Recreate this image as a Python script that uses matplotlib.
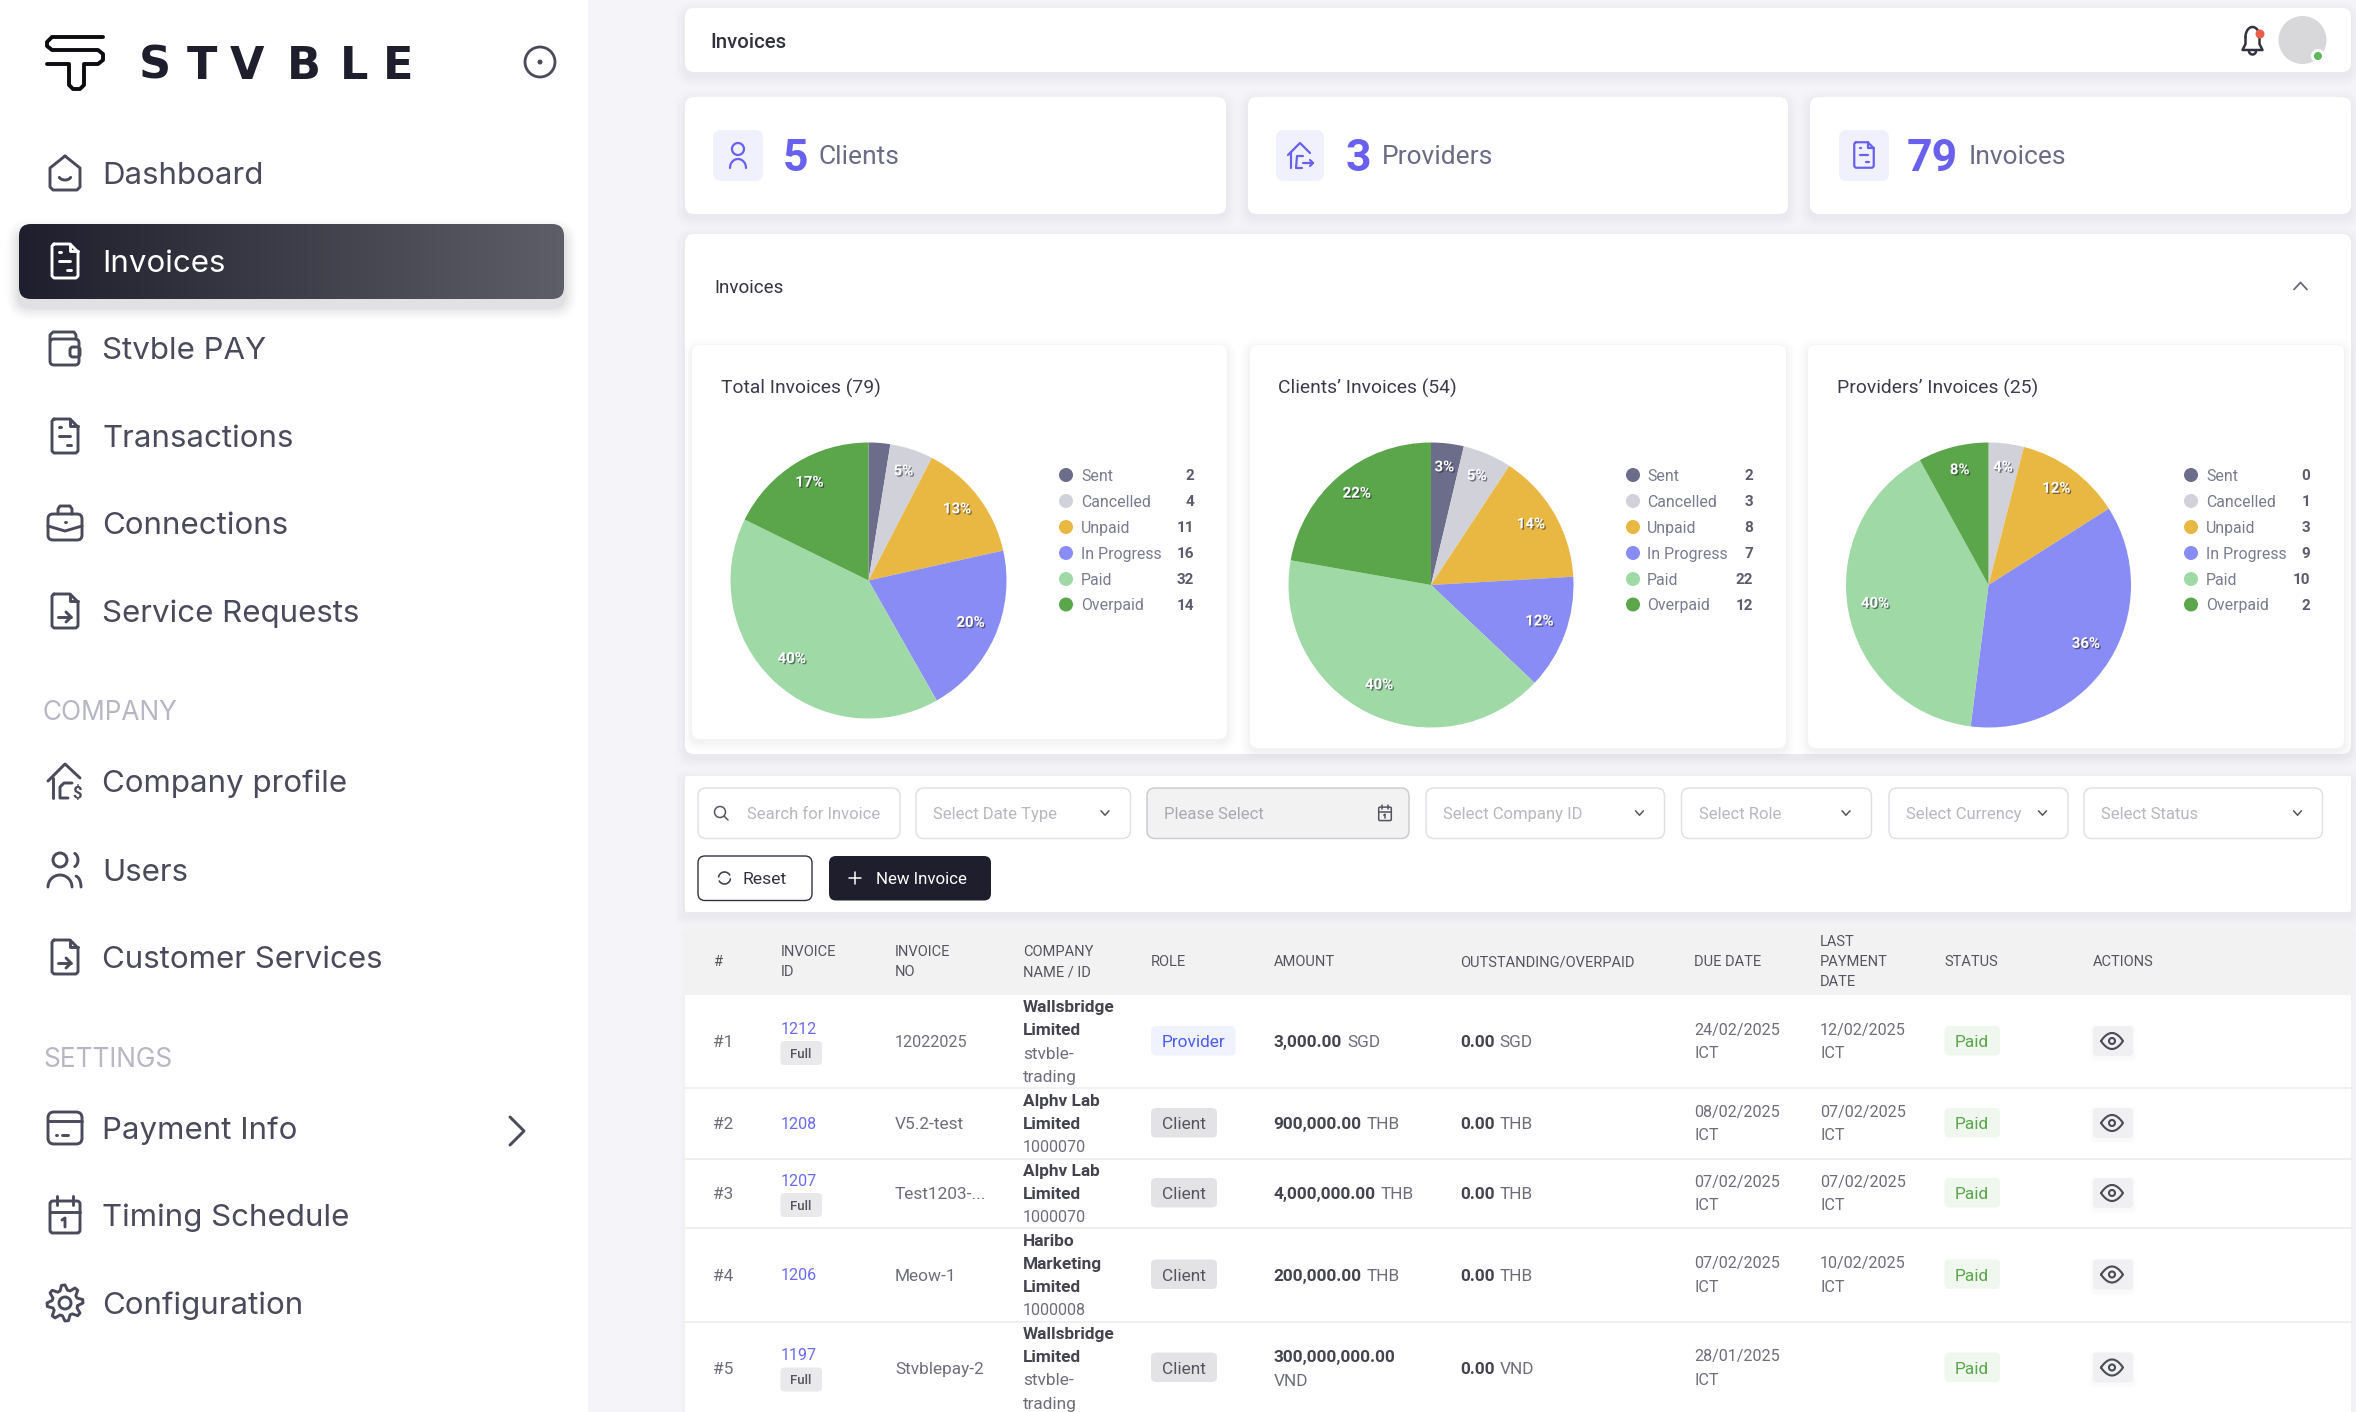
import numpy as np
import matplotlib
matplotlib.use("Agg")
import matplotlib.pyplot as plt
from matplotlib.patches import FancyBboxPatch, Circle
from matplotlib.colors import LinearSegmentedColormap
import matplotlib.patheffects as pe

plt.rcParams['font.family'] = ['Roboto', 'DejaVu Sans']

# ---------- data ----------
status_names = ["Sent", "Cancelled", "Unpaid", "In Progress", "Paid", "Overpaid"]
status_colors = ["#6b6d8a", "#d1d1da", "#e9b842", "#8a8cf6", "#9fd9a5", "#5ba64a"]

pie_titles = ["Total Invoices (79)", "Clients\u2019 Invoices (54)", "Providers\u2019 Invoices (25)"]
total_counts = [2, 4, 11, 16, 32, 14]
client_counts = [2, 3, 8, 7, 22, 12]
provider_counts = [0, 1, 3, 9, 10, 2]
total_pct = ["", "5%", "13%", "20%", "40%", "17%"]
client_pct = ["3%", "5%", "14%", "12%", "40%", "22%"]
provider_pct = ["", "4%", "12%", "36%", "40%", "8%"]

stat_numbers = ["5", "3", "79"]
stat_labels = ["Clients", "Providers", "Invoices"]

menu_main = ["Dashboard", "Invoices", "Stvble PAY", "Transactions", "Connections", "Service Requests"]
menu_company = ["Company profile", "Users", "Customer Services"]
menu_settings = ["Payment Info", "Timing Schedule", "Configuration"]

filters = ["Search for Invoice", "Select Date Type", "Please Select", "Select Company ID",
           "Select Role", "Select Currency", "Select Status"]

table_headers = [["#"], ["INVOICE", "ID"], ["INVOICE", "NO"], ["COMPANY", "NAME / ID"], ["ROLE"],
                 ["AMOUNT"], ["OUTSTANDING/OVERPAID"], ["DUE DATE"], ["LAST", "PAYMENT", "DATE"],
                 ["STATUS"], ["ACTIONS"]]
row_numbers = ["#1", "#2", "#3", "#4", "#5"]
invoice_ids = ["1212", "1208", "1207", "1206", "1197"]
invoice_full = [True, False, True, False, True]
invoice_nos = ["12022025", "V5.2-test", "Test1203-...", "Meow-1", "Stvblepay-2"]
company_names = [["Wallsbridge", "Limited"], ["Alphv Lab", "Limited"], ["Alphv Lab", "Limited"],
                 ["Haribo", "Marketing", "Limited"], ["Wallsbridge", "Limited"]]
company_ids = [["stvble-", "trading"], ["1000070"], ["1000070"], ["1000008"], ["stvble-", "trading"]]
roles = ["Provider", "Client", "Client", "Client", "Client"]
amounts = ["3,000.00", "900,000.00", "4,000,000.00", "200,000.00", "300,000,000.00"]
currencies = ["SGD", "THB", "THB", "THB", "VND"]
outstanding = ["0.00", "0.00", "0.00", "0.00", "0.00"]
due_dates = ["24/02/2025", "08/02/2025", "07/02/2025", "07/02/2025", "28/01/2025"]
last_payments = ["12/02/2025", "07/02/2025", "07/02/2025", "10/02/2025", ""]
statuses = ["Paid", "Paid", "Paid", "Paid", "Paid"]

# ---------- canvas ----------
W, H = 2356, 1412
fig = plt.figure(figsize=(W / 100, H / 100), dpi=100, facecolor="#f5f5f9")
ax = fig.add_axes([0, 0, 1, 1])
ax.set_xlim(0, W)
ax.set_ylim(H, 0)
ax.axis("off")

DARK = "#1e1e2c"
ICON = "#4a4a5a"
PURPLE = "#6a60f0"


def t(x, y, s, size, color="#44444f", weight="normal", ha="left", family=None, z=10):
    """Text whose visual middle sits on y (pixel coordinates)."""
    em = size * 100 / 72
    kw = {"family": family} if family else {}
    return ax.text(x, y + 0.355 * em, s, fontsize=size, color=color, fontweight=weight,
                   ha=ha, va="baseline", zorder=z, **kw)


def rrect(x0, y0, x1, y1, r=8, fc="white", ec="none", lw=0, z=2, **kw):
    p = FancyBboxPatch((x0, y0), x1 - x0, y1 - y0, boxstyle=f"round,pad=0,rounding_size={r}",
                       fc=fc, ec=ec, lw=lw, zorder=z, **kw)
    ax.add_patch(p)
    return p


def shadow(x0, y0, x1, y1, r=8, dy=4, spread=12, a=0.002, z=1, color="#30304a"):
    for k in range(spread, 0, -2):
        rrect(x0 - k, y0 - k + dy, x1 + k, y1 + k + dy, r=r + k, fc=color, alpha=a * (spread - k + 2) / 2, z=z)


def card(x0, y0, x1, y1, r=9, sh=True, fc="white", z=2):
    if sh:
        shadow(x0, y0, x1, y1, r=r, z=z - 0.5)
    return rrect(x0, y0, x1, y1, r=r, fc=fc, z=z)


def poly(pts, c=ICON, lw=2.1, z=11, close=False):
    p = np.array(pts, dtype=float)
    if close:
        p = np.vstack([p, p[:1]])
    ax.plot(p[:, 0], p[:, 1], color=c, lw=lw, solid_capstyle="round", solid_joinstyle="round", zorder=z)


def off(cx, cy, pts, s=1.0):
    return [(cx + px * s, cy + py * s) for px, py in pts]


def circ(cx, cy, r, c=ICON, lw=2.1, fill=None, z=11):
    ax.add_patch(Circle((cx, cy), r, fc=fill if fill else "none", ec=c if lw else "none", lw=lw, zorder=z))


def arc(cx, cy, rx, ry, a0, a1, c=ICON, lw=2.1, z=11):
    th = np.radians(np.linspace(a0, a1, 40))
    poly(np.c_[cx + rx * np.cos(th), cy - ry * np.sin(th)], c, lw, z)


def rbox(cx, cy, x0, y0, x1, y1, r=4, c=ICON, lw=2.1, z=11):
    p = rrect(cx + x0, cy + y0, cx + x1, cy + y1, r=r, fc="none", ec=c, lw=lw, z=z)
    return p


def doc(cx, cy, c=ICON, lw=2.1, s=1.0, inner="dash"):
    poly(off(cx, cy, [(-11, -17), (5, -17), (13, -9), (13, 15), (11, 17), (-11, 17), (-13, 15), (-13, -15)], s), c, lw, close=True)
    poly(off(cx, cy, [(5, -17), (5, -10), (13, -10)], s), c, lw)
    if inner == "dash":
        poly(off(cx, cy, [(-6, -9), (-4, -9)], s), c, lw)
        poly(off(cx, cy, [(-6, 0), (5, 0)], s), c, lw)
        poly(off(cx, cy, [(2, 9), (6, 9)], s), c, lw)
    else:
        poly(off(cx, cy, [(-7, 6), (6, 6)], s), c, lw)
        poly(off(cx, cy, [(1, 1), (6, 6), (1, 11)], s), c, lw)


def home_smile(cx, cy):
    poly(off(cx, cy, [(0, -17), (15, -5), (15, 14), (12, 17), (-12, 17), (-15, 14), (-15, -5)]), close=True)
    arc(cx, cy + 3, 6, 4, 200, 340)


def wallet(cx, cy):
    rbox(cx, cy, -15, -9, 14, 17)
    poly(off(cx, cy, [(-15, -7), (-15, -13), (-12, -16), (9, -16), (11, -13), (11, -9)]))
    rbox(cx, cy, 5, -1, 15, 9, r=3)


def briefcase(cx, cy):
    rbox(cx, cy, -17, -9, 17, 17, r=5)
    poly(off(cx, cy, [(-7, -9), (-7, -14), (-5, -17), (5, -17), (7, -14), (7, -9)]))
    poly(off(cx, cy, [(-17, 3), (0, 8), (17, 3)]))
    poly(off(cx, cy, [(0, -1), (0.5, -1)]))


def house_dollar(cx, cy):
    poly(off(cx, cy, [(-17, 0), (0, -17), (15, -3)]))
    poly(off(cx, cy, [(-12, -3), (-12, 17)]))
    poly(off(cx, cy, [(7, 2), (-1, 2), (-5, 6), (-5, 17), (3, 17)]))
    t(cx + 12, cy + 11, "$", 12, ICON, "bold", ha="center", z=11)


def users(cx, cy):
    circ(cx - 5, cy - 10, 7)
    arc(cx + 8, cy - 10, 5, 7, -70, 70)
    arc(cx - 5, cy + 17, 12, 12, 0, 180)
    arc(cx + 10, cy + 17, 6, 11, 0, 80)


def pay_card(cx, cy):
    rbox(cx, cy, -17, -16, 17, 16, r=6)
    poly(off(cx, cy, [(-17, -7), (17, -7)]))
    poly(off(cx, cy, [(-9, 7), (-8, 7)]))
    poly(off(cx, cy, [(-3, 7), (3, 7)]))


def calendar(cx, cy, s=1.0, lw=2.1, c=ICON):
    rbox(cx, cy, -15 * s, -14 * s, 15 * s, 18 * s, r=3 * s, lw=lw, c=c)
    poly(off(cx, cy, [(-8, -19), (-8, -10)], s), c, lw)
    poly(off(cx, cy, [(8, -19), (8, -10)], s), c, lw)
    poly(off(cx, cy, [(-15, -3), (15, -3)], s), c, lw)
    poly(off(cx, cy, [(-3, 5), (0, 3), (0, 12)], s), c, lw)


def gear(cx, cy):
    n = 8
    ang = np.linspace(0, 2 * np.pi, n * 4, endpoint=False) + np.pi / 8 - np.pi / 16
    rad = np.tile([13, 13, 18, 18], n)
    poly(np.c_[cx + rad * np.cos(ang), cy + rad * np.sin(ang)], close=True)
    circ(cx, cy, 6)


def chevron(cx, cy, w=5, h=3.5, c="#6a6a75", lw=1.3, up=False):
    d = -1 if up else 1
    poly([(cx - w, cy - d * h / 1), (cx, cy + d * h), (cx + w, cy - d * h)], c, lw)


def eye(cx, cy):
    x = np.linspace(-11, 11, 40)
    y = 8 * (1 - (x / 11) ** 2)
    poly(np.r_[np.c_[cx + x, cy - y], np.c_[cx + x[::-1], cy + y[::-1]]], "#4a4a58", 1.5, z=12)
    circ(cx, cy, 3, "#4a4a58", 1.5, z=12)


# ---------- sidebar ----------
ax.add_patch(plt.Rectangle((0, 0), 588, H, fc="white", ec="none", zorder=0.5))
poly([(103, 37), (52, 37), (47, 42), (47, 46), (52, 50), (98, 50), (103, 54), (103, 60), (98, 64),
      (84, 64), (84, 85), (80, 89), (73, 89), (69, 85), (69, 64), (47, 64)], "#0c0c10", 2.8)
for ch, lx in zip("STVBLE", [155, 202, 247, 304, 354, 398]):
    t(lx, 63, ch, 32, DARK, "bold", ha="center", family="DejaVu Sans")
circ(540, 62, 15, "#4a4a58", 2)
circ(540, 62, 2.5, "#4a4a58", 0, fill="#4a4a58")

menu_y_main = [173, 261, 348, 436, 523, 611]
menu_y_company = [781, 870, 957]
menu_y_settings = [1128, 1215, 1303]
MENU = 22.5
MENU_FONT = "Inter"

shadow(19, 224, 564, 299, r=12, dy=8, spread=14, a=0.005)
clip = rrect(19, 224, 564, 299, r=12, fc="none", z=3)
grad = LinearSegmentedColormap.from_list("g", ["#1e1e2c", "#5e5e68"])
im = ax.imshow(np.linspace(0, 1, 256)[None, :], extent=(19, 564, 299, 224), cmap=grad, aspect="auto", zorder=3)
im.set_clip_path(clip)
ax.set_xlim(0, W)
ax.set_ylim(H, 0)

main_icons = [home_smile, lambda x, y: doc(x, y, "white"), wallet, doc, briefcase, lambda x, y: doc(x, y, inner="arrow")]
for name, y, ic in zip(menu_main, menu_y_main, main_icons):
    ic(65, y)
    t(102.5, y, name, MENU, "white" if name == "Invoices" else "#4a4a5a", family=MENU_FONT)
t(43, 711, "COMPANY", 18.9, "#b7b7c2", family=MENU_FONT)
t(43, 1058, "SETTINGS", 18.9, "#b7b7c2", family=MENU_FONT)
for name, y, ic in zip(menu_company, menu_y_company, [house_dollar, users, lambda x, y: doc(x, y, inner="arrow")]):
    ic(65, y)
    t(102.5, y, name, MENU, "#4a4a5a", family=MENU_FONT)
for name, y, ic in zip(menu_settings, menu_y_settings, [pay_card, calendar, gear]):
    ic(65, y)
    t(102.5, y, name, MENU, "#4a4a5a", family=MENU_FONT)
poly([(510, 1117), (524, 1131), (510, 1145)], ICON, 2.1)

# ---------- header ----------
MX0, MX1 = 685, 2351
card(MX0, 8, MX1, 72)
t(710, 41, "Invoices", 14.7, "#33333f", "medium")
bx, by = 2252.5, 40
arc(bx, by - 3, 7, 10, 0, 180, "#33333f", 1.8)
poly([(bx - 7, by - 3), (bx - 7, by + 4), (bx - 10, by + 10), (bx + 10, by + 10), (bx + 7, by + 4), (bx + 7, by - 3)], "#33333f", 1.8)
arc(bx, by + 11, 3.5, 3.5, 180, 360, "#33333f", 1.8)
circ(2260, 34, 4.5, "#e8604c", 0, fill="#e8604c", z=12)
circ(2302.5, 40, 24, "#d8d8da", 0, fill="#d8d8da")
circ(2318, 56, 7, "white", 0, fill="white", z=12)
circ(2318, 56, 4, "#5cb85c", 0, fill="#5cb85c", z=13)

# ---------- stat cards ----------
stat_boxes = [(685, 1226, 713, 763, 782.5, 819), (1248, 1788, 1276, 1324, 1346, 1382), (1810, 2351, 1839, 1889, 1907, 1969)]
for (x0, x1, bx0, bx1, nx, lx), num, lab in zip(stat_boxes, stat_numbers, stat_labels):
    card(x0, 97, x1, 214)
    rrect(bx0, 130, bx1, 181, r=8, fc="#f1f1fd", z=3)
    icx = (bx0 + bx1) / 2
    if lab == "Clients":
        circ(icx, 149, 6, PURPLE, 1.6)
        arc(icx, 168, 8, 9, 0, 180, PURPLE, 1.6)
    elif lab == "Providers":
        poly([(icx - 12, 155), (icx, 143), (icx + 10, 153)], PURPLE, 1.6)
        poly([(icx - 9, 152), (icx - 9, 168)], PURPLE, 1.6)
        poly([(icx + 3, 156), (icx - 3, 156), (icx - 4, 168), (icx + 2, 168)], PURPLE, 1.6)
        poly([(icx + 3, 163), (icx + 13, 163)], PURPLE, 1.6)
        poly([(icx + 10, 160), (icx + 13, 163), (icx + 10, 166)], PURPLE, 1.6)
    else:
        doc(icx, 155, PURPLE, 1.6, s=0.75)
    t(nx, 155, num, 32, PURPLE, "bold")
    t(lx, 155, lab, 19, "#6b6b85")

# ---------- invoices panel + pies ----------
card(MX0, 234, MX1, 754)
t(714, 286.5, "Invoices", 13.5, "#33333f")
chevron(2300.5, 286, 6.5, 3.5, "#6a6a75", 1.3, up=True)

pie_layout = [
    dict(card=(692, 345, 1227, 739), title_x=721, c=(868.5, 580.5), R=138, mx=1066, tx=1081, vx=1194),
    dict(card=(1250, 345, 1786, 748), title_x=1278.5, c=(1431, 585), R=142.5, mx=1633, tx=1647, vx=1753),
    dict(card=(1808, 345, 2344, 748), title_x=1837, c=(1988.5, 585), R=142.5, mx=2191, tx=2206, vx=2310.5),
]
legend_y = [475, 501, 527, 553, 579, 604.5]
all_counts = [total_counts, client_counts, provider_counts]
all_pct = [total_pct, client_pct, provider_pct]

for lay, title, counts, pct in zip(pie_layout, pie_titles, all_counts, all_pct):
    x0, y0, x1, y1 = lay["card"]
    shadow(x0, y0, x1, y1, r=8, dy=3, spread=10, a=0.003, z=2.5)
    rrect(x0, y0, x1, y1, r=8, z=3)
    t(lay["title_x"], 387, title, 13.9, "#3b3b4a")
    cx, cy = lay["c"]
    R = lay["R"]
    pax = fig.add_axes([(cx - R) / W, 1 - (cy + R) / H, 2 * R / W, 2 * R / H], zorder=5)
    pax.patch.set_alpha(0)
    wedges, _ = pax.pie(counts, colors=status_colors, startangle=90, counterclock=False, radius=1.0)
    pax.set_xlim(-1, 1)
    pax.set_ylim(-1, 1)
    for w, lab in zip(wedges, pct):
        if not lab:
            continue
        a = np.radians((w.theta1 + w.theta2) / 2)
        pax.text(0.81 * np.cos(a), 0.81 * np.sin(a) + 3 / R, lab, color="white", fontsize=10.8, fontweight="bold",
                 ha="center", va="center", zorder=8,
                 path_effects=[pe.withSimplePatchShadow(offset=(1, -1), shadow_rgbFace="#222233", alpha=0.55)])
    for name, col, val, y in zip(status_names, status_colors, counts, legend_y):
        circ(lay["mx"], y, 7, col, 0, fill=col)
        t(lay["tx"], y, name, 11.4, "#7a7a90")
        t(lay["vx"], y, str(val), 11, "#5b5b6b", "bold", ha="right")

# ---------- filter panel ----------
card(MX0, 776, MX1, 912, r=2)
field_boxes = [(698, 900), (916, 1130.5), (1147, 1409), (1426, 1664.5), (1681.5, 1871.5), (1889, 2068), (2084, 2322.5)]
field_text_x = [747, 933, 1164, 1443, 1699, 1906, 2101]
field_chev_x = [None, 1105, None, 1639.5, 1846, 2042.5, 2297.5]
for (a, b), name, tx, cv in zip(field_boxes, filters, field_text_x, field_chev_x):
    grey = name == "Please Select"
    rrect(a, 788, b, 838.5, r=8, fc="#f2f2f3" if grey else "white", ec="#c9c9cf" if grey else "#dfdfe4", lw=1, z=3)
    t(tx, 813, name, 12, "#a9a9b0" if grey else "#b7b7be")
    if cv:
        chevron(cv, 813, 4, 2.2, "#55555f", 1.1)
circ(720, 812, 5.5, "#55555f", 1.1)
poly([(724, 816), (728, 820)], "#55555f", 1.1)
calendar(1385, 813, s=0.42, lw=1.1, c="#55555f")

rrect(698, 856, 812, 900.5, r=7, fc="white", ec="#33333f", lw=1, z=3)
arc(724.5, 878, 6, 6, 30, 170, "#44444f", 1.2)
arc(724.5, 878, 6, 6, 210, 350, "#44444f", 1.2)
t(743, 878, "Reset", 12.6, "#33333f")
shadow(829, 856, 991, 900.5, r=7, dy=4, spread=8, a=0.007)
rrect(829, 856, 991, 900.5, r=7, fc=DARK, z=3)
poly([(849, 878), (861, 878)], "white", 1.1)
poly([(855, 872), (855, 884)], "white", 1.1)
t(875.5, 878, "New Invoice", 12.2, "white")

# ---------- table ----------
shadow(MX0, 928, MX1, 1442, r=8, dy=2, spread=6, a=0.002, z=1.5)
rrect(MX0, 928, MX1, 1412 + 30, r=8, z=2)
rrect(MX0, 928, MX1, 994.5, r=6, fc="#f2f2f3", z=2.5)
ax.add_patch(plt.Rectangle((MX0, 960), MX1 - MX0, 34.5, fc="#f2f2f3", ec="none", zorder=2.5))

col_x = [713.5, 780.5, 895, 1023, 1151, 1273.5, 1460, 1694, 1820, 1944.5, 2093]
HEAD = 10.5
for x, lines in zip(col_x, table_headers):
    n = len(lines)
    sp = 20
    for i, line in enumerate(lines):
        t(x, 961 + (i - (n - 1) / 2) * sp, line, HEAD, "#55555f")

row_y = [1041, 1123, 1193, 1274.5, 1367.5]
sep_y = [1088, 1158.5, 1228, 1321.5]
for y in sep_y:
    ax.plot([MX0, MX1], [y, y], color="#ededf0", lw=1.2, zorder=3)

BODY = 11.6
LETTERS = 12.4
GREY = "#6e6e7a"
SEMI = "#44444f"
renderer = fig.canvas.get_renderer()


def after(x, y, first, second):
    tx = t(x, y, first, LETTERS, SEMI, "bold")
    e = tx.get_window_extent(renderer)
    t(e.x1 + 5, y, second, LETTERS, GREY)


for i, cy in enumerate(row_y):
    t(col_x[0], cy, row_numbers[i], LETTERS, GREY)
    if invoice_full[i]:
        t(col_x[1], cy - 13, invoice_ids[i], BODY, "#6a6af0")
        rrect(780.5, cy, 822, cy + 24, r=4, fc="#e9e9ec", z=3)
        t(801, cy + 12, "Full", 9.6, "#55555f", "medium", ha="center")
    else:
        t(col_x[1], cy, invoice_ids[i], BODY, "#6a6af0")
    t(col_x[2], cy, invoice_nos[i], BODY if invoice_nos[i].isdigit() else LETTERS, GREY)
    lines = company_names[i] + company_ids[i]
    n = len(lines)
    for k, line in enumerate(lines):
        bold = k < len(company_names[i])
        t(col_x[3], cy + (k - (n - 1) / 2) * 23.4, line, BODY if line.isdigit() else LETTERS,
          SEMI if bold else GREY, "bold" if bold else "normal")
    if roles[i] == "Provider":
        rrect(1151, cy - 15, 1235.5, cy + 14.5, r=5, fc="#f0f2ff", z=3)
        t(1193, cy, roles[i], LETTERS, "#4c5bf0", ha="center")
    else:
        rrect(1151, cy - 15, 1217, cy + 14.5, r=5, fc="#e3e3e5", z=3)
        t(1184, cy, roles[i], LETTERS, "#55555f", ha="center")
    if len(amounts[i]) > 12:
        t(col_x[5], cy - 12, amounts[i], LETTERS, SEMI, "bold")
        t(col_x[5], cy + 12, currencies[i], LETTERS, GREY)
    else:
        after(col_x[5], cy, amounts[i], currencies[i])
    after(col_x[6], cy, outstanding[i], currencies[i])
    t(col_x[7], cy - 12, due_dates[i], BODY, GREY)
    t(col_x[7], cy + 11.5, "ICT", BODY, GREY)
    if last_payments[i]:
        t(col_x[8], cy - 12, last_payments[i], BODY, GREY)
        t(col_x[8], cy + 11.5, "ICT", BODY, GREY)
    rrect(1944.5, cy - 15, 2000, cy + 14.5, r=5, fc="#eff7ee", z=3)
    t(1972, cy, statuses[i], LETTERS, "#5aa64b", ha="center")
    shadow(2093, cy - 15, 2133, cy + 15, r=4, dy=2, spread=4, a=0.006, z=3)
    rrect(2093, cy - 15, 2133, cy + 15, r=4, fc="#f0f0f2", z=3.5)
    eye(2112, cy)

fig.savefig("out.png", dpi=100, facecolor=fig.get_facecolor())
